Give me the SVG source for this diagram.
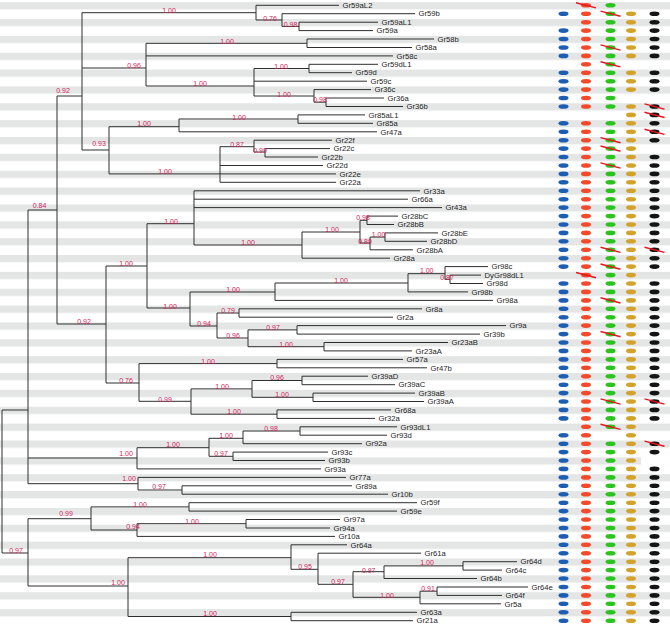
<svg xmlns="http://www.w3.org/2000/svg" xmlns:xlink="http://www.w3.org/1999/xlink" width="670" height="624" viewBox="0 0 670 624">
<style>
.e{stroke:#2e2e2e;stroke-width:1;fill:none}
.t{font-family:"Liberation Sans",Arial,sans-serif;font-size:7.7px;fill:#1e1e1e}
.b{font-family:"Liberation Sans",Arial,sans-serif;font-size:7px;fill:#d6225a;text-anchor:middle}
</style>
<defs>
<pattern id="stripes" patternUnits="userSpaceOnUse" x="0" y="2.1" width="670" height="16.86"><rect x="0" y="0" width="670" height="7.3" fill="#e4e6e6"/></pattern>
<ellipse id="d" rx="5" ry="2.3"/>
<path id="x" d="M-10-2.6L10 2.6" stroke="#e8141e" stroke-width="1.4" fill="none"/>
</defs>
<rect x="0" y="0" width="670" height="624" fill="#fff"/>
<rect x="0" y="0" width="670" height="624" fill="url(#stripes)"/>
<rect x="641" y="456" width="29" height="9" fill="#fff"/>
<g id="connectors" class="e">
<path d="M2 410V553M2 410H28M2 553H28"/>
<path d="M28 210V483.7M28 210H57M28 458H137M28 483.7H138"/>
<path d="M57 96V324M57 96H82M57 324H106"/>
<path d="M82 12.7V150M82 12.7H256M82 68H146M82 150H109"/>
<path d="M256 5.3V20M256 5.3H339M256 20H282"/>
<path d="M282 13.7V26.4M282 13.7H415M282 26.4H299"/>
<path d="M299 22.2V30.6M299 22.2H378M299 30.6H373"/>
<path d="M146 43.3V86M146 43.3H307M146 55.9H393M146 86H254"/>
<path d="M307 39V47.5M307 39H434M307 47.5H412"/>
<path d="M254 68.5V96M254 68.5H309M254 81.2H367M254 96H314"/>
<path d="M309 64.3V72.7M309 64.3H378M309 72.7H352"/>
<path d="M314 89.6V102.2M314 89.6H371M314 102.2H326"/>
<path d="M326 98V106.5M326 98H384M326 106.5H403"/>
<path d="M109 126.7V173.9M109 126.7H179M109 173.9H220"/>
<path d="M179 119V131.8M179 119H298M179 131.8H377"/>
<path d="M298 114.9V123.3M298 114.9H365M298 123.3H373"/>
<path d="M220 146.7V182.3M220 146.7H254M220 165.5H323M220 173.9H336M220 182.3H336"/>
<path d="M254 140.2V152M254 140.2H332M254 152H265"/>
<path d="M265 148.6V157M265 148.6H330M265 157H318"/>
<path d="M106 266V383M106 266H147M106 383H139"/>
<path d="M147 223.7V308M147 223.7H194M147 308H190"/>
<path d="M194 190.8V245M194 190.8H420M194 199.2H408M194 207.6H442M194 245H302"/>
<path d="M302 232V258.2M302 232H360M302 258.2H390"/>
<path d="M360 220.3V243M360 220.3H367M360 243H370"/>
<path d="M367 216.1V224.5M367 216.1H398M367 224.5H394"/>
<path d="M370 237.1V249.8M370 237.1H385M370 249.8H413"/>
<path d="M385 232.9V241.3M385 232.9H438M385 241.3H427"/>
<path d="M190 292V326M190 292H275M190 326H217"/>
<path d="M275 283V300.4M275 283H408M275 300.4H493"/>
<path d="M408 273.7V291.9M408 273.7H445M408 291.9H468"/>
<path d="M445 266.6V279.3M445 266.6H488M445 279.3H450"/>
<path d="M450 275.1V283.5M450 275.1H481M450 283.5H483"/>
<path d="M217 313V338M217 313H239M217 338H248"/>
<path d="M239 308.8V317.2M239 308.8H422M239 317.2H393"/>
<path d="M248 329.9V346.7M248 329.9H297M248 346.7H324"/>
<path d="M297 325.6V334.1M297 325.6H506M297 334.1H480"/>
<path d="M324 342.5V350.9M324 342.5H448M324 350.9H412"/>
<path d="M139 363.6V401.3M139 363.6H277M139 401.3H191"/>
<path d="M277 359.4V367.8M277 359.4H403M277 367.8H427"/>
<path d="M191 388.9V414.2M191 388.9H252M191 414.2H277"/>
<path d="M252 380.5V397.3M252 380.5H302M252 397.3H313"/>
<path d="M302 376.2V384.7M302 376.2H368M302 384.7H395"/>
<path d="M313 393.1V401.5M313 393.1H415M313 401.5H424"/>
<path d="M277 409.9V418.4M277 409.9H391M277 418.4H375"/>
<path d="M137 447.7V468.9M137 447.7H209M137 468.9H321"/>
<path d="M209 438.3V456.3M209 438.3H243M209 456.3H233"/>
<path d="M243 431V443.7M243 431H300M243 443.7H362"/>
<path d="M300 426.8V435.2M300 426.8H397M300 435.2H387"/>
<path d="M233 452.1V460.5M233 452.1H328M233 460.5H325"/>
<path d="M138 477.4V490M138 477.4H346M138 490H182"/>
<path d="M182 485.8V494.2M182 485.8H352M182 494.2H388"/>
<path d="M28 518.7V586M28 518.7H91M28 586H128"/>
<path d="M91 506.9V530M91 506.9H189M91 530H137"/>
<path d="M189 502.7V511.1M189 502.7H417M189 511.1H397"/>
<path d="M137 523.7V536.4M137 523.7H246M137 536.4H335"/>
<path d="M246 519.5V528M246 519.5H340M246 528H330"/>
<path d="M128 557.7V616.5M128 557.7H291M128 616.5H291"/>
<path d="M291 544.8V569.3M291 544.8H347M291 569.3H318"/>
<path d="M318 553.2V584.3M318 553.2H421M318 584.3H353"/>
<path d="M353 571.7V597.3M353 571.7H384M353 597.3H420"/>
<path d="M384 565.9V578.5M384 565.9H463M384 578.5H477"/>
<path d="M463 561.7V570.1M463 561.7H517M463 570.1H502"/>
<path d="M420 591.2V603.8M420 591.2H437M420 603.8H501"/>
<path d="M437 587V595.4M437 587H528M437 595.4H502"/>
<path d="M291 612.3V620.7M291 612.3H417M291 620.7H413"/>
</g>
<g id="support" class="b">
<text x="169" y="13.2">1.00</text><text x="270" y="20.5">0.76</text><text x="290.5" y="26.5">0.98</text>
<text x="227" y="44.2">1.00</text><text x="134" y="68.2">0.96</text><text x="200" y="85.8">1.00</text>
<text x="281" y="69.2">1.00</text><text x="284" y="96.5">1.00</text><text x="320" y="101.8">0.98</text>
<text x="63" y="92.5">0.92</text><text x="144" y="125.5">1.00</text><text x="239" y="119.8">1.00</text>
<text x="99" y="145.8">0.93</text><text x="237" y="147.2">0.87</text><text x="260" y="153.2">0.99</text>
<text x="165" y="174.2">1.00</text><text x="39.5" y="208.2">0.84</text><text x="171" y="223.8">1.00</text>
<text x="248" y="244.8">1.00</text><text x="332" y="232.2">1.00</text><text x="126" y="266.2">1.00</text>
<text x="233" y="291.5">1.00</text><text x="170" y="308.8">1.00</text><text x="228" y="312.8">0.79</text>
<text x="341" y="282.5">1.00</text><text x="363" y="219.8">0.98</text><text x="378.5" y="236.5">1.00</text>
<text x="365" y="243.8">0.89</text><text x="426.7" y="272.8">1.00</text><text x="447" y="279.5">0.87</text>
<text x="84" y="323.8">0.92</text><text x="204" y="326.2">0.94</text><text x="273" y="329.5">0.97</text>
<text x="233" y="337.8">0.96</text><text x="286" y="346.8">1.00</text><text x="208" y="363.8">1.00</text>
<text x="277" y="380.2">0.96</text><text x="126" y="382.8">0.76</text><text x="222" y="388.8">1.00</text>
<text x="282" y="397.2">1.00</text><text x="165" y="401.8">0.99</text><text x="234" y="413.8">1.00</text>
<text x="271" y="431.2">0.98</text><text x="226" y="437.5">1.00</text><text x="173" y="446.8">1.00</text>
<text x="126" y="456.2">1.00</text><text x="221" y="456.2">0.97</text><text x="129" y="480.5">1.00</text>
<text x="159" y="489.2">0.97</text><text x="140" y="506.8">1.00</text><text x="66" y="516.2">0.99</text>
<text x="192" y="523.5">1.00</text><text x="133" y="529.2">0.94</text><text x="16" y="552.5">0.97</text>
<text x="210" y="556.5">1.00</text><text x="305" y="569.2">0.95</text><text x="118" y="584.5">1.00</text>
<text x="338" y="584.2">0.97</text><text x="210" y="615.8">1.00</text><text x="427" y="565.2">1.00</text>
<text x="368.7" y="572.5">0.97</text><text x="428" y="590.8">0.91</text><text x="387" y="597.5">1.00</text>
</g>
<g class="t">
<g id="Gr59aL2"><text x="342.5" y="8">Gr59aL2</text></g>
<g id="Gr59b"><text x="418.5" y="16.4">Gr59b</text></g>
<g id="Gr59aL1"><text x="381.5" y="24.9">Gr59aL1</text></g>
<g id="Gr59a"><text x="376.5" y="33.3">Gr59a</text></g>
<g id="Gr58b"><text x="437.5" y="41.7">Gr58b</text></g>
<g id="Gr58a"><text x="415.5" y="50.2">Gr58a</text></g>
<g id="Gr58c"><text x="396.5" y="58.6">Gr58c</text></g>
<g id="Gr59dL1"><text x="381.5" y="67">Gr59dL1</text></g>
<g id="Gr59d"><text x="355.5" y="75.4">Gr59d</text></g>
<g id="Gr59c"><text x="370.5" y="83.9">Gr59c</text></g>
<g id="Gr36c"><text x="374.5" y="92.3">Gr36c</text></g>
<g id="Gr36a"><text x="387.5" y="100.7">Gr36a</text></g>
<g id="Gr36b"><text x="406.5" y="109.2">Gr36b</text></g>
<g id="Gr85aL1"><text x="368.5" y="117.6">Gr85aL1</text></g>
<g id="Gr85a"><text x="376.5" y="126">Gr85a</text></g>
<g id="Gr47a"><text x="380.5" y="134.5">Gr47a</text></g>
<g id="Gr22f"><text x="335.5" y="142.9">Gr22f</text></g>
<g id="Gr22c"><text x="333.5" y="151.3">Gr22c</text></g>
<g id="Gr22b"><text x="321.5" y="159.7">Gr22b</text></g>
<g id="Gr22d"><text x="326.5" y="168.2">Gr22d</text></g>
<g id="Gr22e"><text x="339.5" y="176.6">Gr22e</text></g>
<g id="Gr22a"><text x="339.5" y="185">Gr22a</text></g>
<g id="Gr33a"><text x="423.5" y="193.5">Gr33a</text></g>
<g id="Gr66a"><text x="411.5" y="201.9">Gr66a</text></g>
<g id="Gr43a"><text x="445.5" y="210.3">Gr43a</text></g>
<g id="Gr28bC"><text x="401.5" y="218.8">Gr28bC</text></g>
<g id="Gr28bB"><text x="397.5" y="227.2">Gr28bB</text></g>
<g id="Gr28bE"><text x="441.5" y="235.6">Gr28bE</text></g>
<g id="Gr28bD"><text x="430.5" y="244">Gr28bD</text></g>
<g id="Gr28bA"><text x="416.5" y="252.5">Gr28bA</text></g>
<g id="Gr28a"><text x="393.5" y="260.9">Gr28a</text></g>
<g id="Gr98c"><text x="491.5" y="269.3">Gr98c</text></g>
<g id="DyGr98dL1"><text x="484.5" y="277.8">DyGr98dL1</text></g>
<g id="Gr98d"><text x="486.5" y="286.2">Gr98d</text></g>
<g id="Gr98b"><text x="471.5" y="294.6">Gr98b</text></g>
<g id="Gr98a"><text x="496.5" y="303.1">Gr98a</text></g>
<g id="Gr8a"><text x="425.5" y="311.5">Gr8a</text></g>
<g id="Gr2a"><text x="396.5" y="319.9">Gr2a</text></g>
<g id="Gr9a"><text x="509.5" y="328.3">Gr9a</text></g>
<g id="Gr39b"><text x="483.5" y="336.8">Gr39b</text></g>
<g id="Gr23aB"><text x="451.5" y="345.2">Gr23aB</text></g>
<g id="Gr23aA"><text x="415.5" y="353.6">Gr23aA</text></g>
<g id="Gr57a"><text x="406.5" y="362.1">Gr57a</text></g>
<g id="Gr47b"><text x="430.5" y="370.5">Gr47b</text></g>
<g id="Gr39aD"><text x="371.5" y="378.9">Gr39aD</text></g>
<g id="Gr39aC"><text x="398.5" y="387.4">Gr39aC</text></g>
<g id="Gr39aB"><text x="418.5" y="395.8">Gr39aB</text></g>
<g id="Gr39aA"><text x="427.5" y="404.2">Gr39aA</text></g>
<g id="Gr68a"><text x="394.5" y="412.6">Gr68a</text></g>
<g id="Gr32a"><text x="378.5" y="421.1">Gr32a</text></g>
<g id="Gr93dL1"><text x="400.5" y="429.5">Gr93dL1</text></g>
<g id="Gr93d"><text x="390.5" y="437.9">Gr93d</text></g>
<g id="Gr92a"><text x="365.5" y="446.4">Gr92a</text></g>
<g id="Gr93c"><text x="331.5" y="454.8">Gr93c</text></g>
<g id="Gr93b"><text x="328.5" y="463.2">Gr93b</text></g>
<g id="Gr93a"><text x="324.5" y="471.6">Gr93a</text></g>
<g id="Gr77a"><text x="349.5" y="480.1">Gr77a</text></g>
<g id="Gr89a"><text x="355.5" y="488.5">Gr89a</text></g>
<g id="Gr10b"><text x="391.5" y="496.9">Gr10b</text></g>
<g id="Gr59f"><text x="420.5" y="505.4">Gr59f</text></g>
<g id="Gr59e"><text x="400.5" y="513.8">Gr59e</text></g>
<g id="Gr97a"><text x="343.5" y="522.2">Gr97a</text></g>
<g id="Gr94a"><text x="333.5" y="530.7">Gr94a</text></g>
<g id="Gr10a"><text x="338.5" y="539.1">Gr10a</text></g>
<g id="Gr64a"><text x="350.5" y="547.5">Gr64a</text></g>
<g id="Gr61a"><text x="424.5" y="555.9">Gr61a</text></g>
<g id="Gr64d"><text x="520.5" y="564.4">Gr64d</text></g>
<g id="Gr64c"><text x="505.5" y="572.8">Gr64c</text></g>
<g id="Gr64b"><text x="480.5" y="581.2">Gr64b</text></g>
<g id="Gr64e"><text x="531.5" y="589.7">Gr64e</text></g>
<g id="Gr64f"><text x="505.5" y="598.1">Gr64f</text></g>
<g id="Gr5a"><text x="504.5" y="606.5">Gr5a</text></g>
<g id="Gr63a"><text x="420.5" y="615">Gr63a</text></g>
<g id="Gr21a"><text x="416.5" y="623.4">Gr21a</text></g>
</g>
<g id="col-blue" fill="#1d5db2" transform="translate(563.5 0)">
<use href="#d" y="13.7"/><use href="#d" y="30.6"/><use href="#d" y="39"/><use href="#d" y="47.5"/><use href="#d" y="55.9"/><use href="#d" y="72.7"/><use href="#d" y="81.2"/><use href="#d" y="89.6"/><use href="#d" y="98"/><use href="#d" y="106.5"/><use href="#d" y="123.3"/><use href="#d" y="131.8"/><use href="#d" y="140.2"/><use href="#d" y="148.6"/><use href="#d" y="157"/><use href="#d" y="165.5"/><use href="#d" y="173.9"/><use href="#d" y="182.3"/><use href="#d" y="190.8"/><use href="#d" y="199.2"/><use href="#d" y="207.6"/><use href="#d" y="216.1"/><use href="#d" y="224.5"/><use href="#d" y="232.9"/><use href="#d" y="241.3"/><use href="#d" y="249.8"/><use href="#d" y="258.2"/><use href="#d" y="266.6"/><use href="#d" y="283.5"/><use href="#d" y="291.9"/><use href="#d" y="300.4"/><use href="#d" y="308.8"/><use href="#d" y="317.2"/><use href="#d" y="325.6"/><use href="#d" y="334.1"/><use href="#d" y="342.5"/><use href="#d" y="350.9"/><use href="#d" y="359.4"/><use href="#d" y="367.8"/><use href="#d" y="376.2"/><use href="#d" y="384.7"/><use href="#d" y="393.1"/><use href="#d" y="401.5"/><use href="#d" y="409.9"/><use href="#d" y="418.4"/><use href="#d" y="435.2"/><use href="#d" y="443.7"/><use href="#d" y="452.1"/><use href="#d" y="460.5"/><use href="#d" y="468.9"/><use href="#d" y="477.4"/><use href="#d" y="485.8"/><use href="#d" y="494.2"/><use href="#d" y="502.7"/><use href="#d" y="511.1"/><use href="#d" y="519.5"/><use href="#d" y="528"/><use href="#d" y="536.4"/><use href="#d" y="544.8"/><use href="#d" y="553.2"/><use href="#d" y="561.7"/><use href="#d" y="570.1"/><use href="#d" y="578.5"/><use href="#d" y="587"/><use href="#d" y="595.4"/><use href="#d" y="603.8"/><use href="#d" y="612.3"/><use href="#d" y="620.7"/>
</g>
<g id="col-red" fill="#f4492b" transform="translate(586 0)">
<use href="#d" y="5.3"/><use href="#d" y="13.7"/><use href="#d" y="22.2"/><use href="#d" y="30.6"/><use href="#d" y="39"/><use href="#d" y="47.5"/><use href="#d" y="55.9"/><use href="#d" y="64.3"/><use href="#d" y="72.7"/><use href="#d" y="81.2"/><use href="#d" y="89.6"/><use href="#d" y="98"/><use href="#d" y="106.5"/><use href="#d" y="123.3"/><use href="#d" y="131.8"/><use href="#d" y="140.2"/><use href="#d" y="148.6"/><use href="#d" y="157"/><use href="#d" y="165.5"/><use href="#d" y="173.9"/><use href="#d" y="182.3"/><use href="#d" y="190.8"/><use href="#d" y="199.2"/><use href="#d" y="207.6"/><use href="#d" y="216.1"/><use href="#d" y="224.5"/><use href="#d" y="232.9"/><use href="#d" y="241.3"/><use href="#d" y="249.8"/><use href="#d" y="258.2"/><use href="#d" y="266.6"/><use href="#d" y="275.1"/><use href="#d" y="283.5"/><use href="#d" y="291.9"/><use href="#d" y="300.4"/><use href="#d" y="308.8"/><use href="#d" y="317.2"/><use href="#d" y="325.6"/><use href="#d" y="334.1"/><use href="#d" y="342.5"/><use href="#d" y="350.9"/><use href="#d" y="359.4"/><use href="#d" y="367.8"/><use href="#d" y="376.2"/><use href="#d" y="384.7"/><use href="#d" y="393.1"/><use href="#d" y="401.5"/><use href="#d" y="409.9"/><use href="#d" y="418.4"/><use href="#d" y="426.8"/><use href="#d" y="435.2"/><use href="#d" y="443.7"/><use href="#d" y="452.1"/><use href="#d" y="460.5"/><use href="#d" y="468.9"/><use href="#d" y="477.4"/><use href="#d" y="485.8"/><use href="#d" y="494.2"/><use href="#d" y="502.7"/><use href="#d" y="511.1"/><use href="#d" y="519.5"/><use href="#d" y="528"/><use href="#d" y="536.4"/><use href="#d" y="544.8"/><use href="#d" y="553.2"/><use href="#d" y="561.7"/><use href="#d" y="570.1"/><use href="#d" y="578.5"/><use href="#d" y="587"/><use href="#d" y="595.4"/><use href="#d" y="603.8"/><use href="#d" y="612.3"/><use href="#d" y="620.7"/>
</g>
<g id="col-green" fill="#2cc21f" transform="translate(610.5 0)">
<use href="#d" y="5.3"/><use href="#d" y="13.7"/><use href="#d" y="22.2"/><use href="#d" y="30.6"/><use href="#d" y="39"/><use href="#d" y="47.5"/><use href="#d" y="55.9"/><use href="#d" y="64.3"/><use href="#d" y="72.7"/><use href="#d" y="81.2"/><use href="#d" y="89.6"/><use href="#d" y="98"/><use href="#d" y="106.5"/><use href="#d" y="123.3"/><use href="#d" y="131.8"/><use href="#d" y="140.2"/><use href="#d" y="148.6"/><use href="#d" y="157"/><use href="#d" y="165.5"/><use href="#d" y="173.9"/><use href="#d" y="182.3"/><use href="#d" y="190.8"/><use href="#d" y="199.2"/><use href="#d" y="207.6"/><use href="#d" y="216.1"/><use href="#d" y="224.5"/><use href="#d" y="232.9"/><use href="#d" y="241.3"/><use href="#d" y="249.8"/><use href="#d" y="258.2"/><use href="#d" y="266.6"/><use href="#d" y="275.1"/><use href="#d" y="283.5"/><use href="#d" y="291.9"/><use href="#d" y="300.4"/><use href="#d" y="308.8"/><use href="#d" y="317.2"/><use href="#d" y="325.6"/><use href="#d" y="334.1"/><use href="#d" y="342.5"/><use href="#d" y="350.9"/><use href="#d" y="359.4"/><use href="#d" y="367.8"/><use href="#d" y="376.2"/><use href="#d" y="384.7"/><use href="#d" y="393.1"/><use href="#d" y="401.5"/><use href="#d" y="409.9"/><use href="#d" y="418.4"/><use href="#d" y="426.8"/><use href="#d" y="443.7"/><use href="#d" y="452.1"/><use href="#d" y="460.5"/><use href="#d" y="468.9"/><use href="#d" y="477.4"/><use href="#d" y="485.8"/><use href="#d" y="494.2"/><use href="#d" y="502.7"/><use href="#d" y="511.1"/><use href="#d" y="519.5"/><use href="#d" y="528"/><use href="#d" y="536.4"/><use href="#d" y="544.8"/><use href="#d" y="553.2"/><use href="#d" y="561.7"/><use href="#d" y="570.1"/><use href="#d" y="578.5"/><use href="#d" y="587"/><use href="#d" y="595.4"/><use href="#d" y="603.8"/><use href="#d" y="612.3"/><use href="#d" y="620.7"/>
</g>
<g id="col-gold" fill="#d3a22b" transform="translate(631 0)">
<use href="#d" y="13.7"/><use href="#d" y="22.2"/><use href="#d" y="30.6"/><use href="#d" y="39"/><use href="#d" y="47.5"/><use href="#d" y="55.9"/><use href="#d" y="72.7"/><use href="#d" y="81.2"/><use href="#d" y="89.6"/><use href="#d" y="106.5"/><use href="#d" y="114.9"/><use href="#d" y="123.3"/><use href="#d" y="131.8"/><use href="#d" y="140.2"/><use href="#d" y="148.6"/><use href="#d" y="157"/><use href="#d" y="165.5"/><use href="#d" y="173.9"/><use href="#d" y="182.3"/><use href="#d" y="190.8"/><use href="#d" y="199.2"/><use href="#d" y="207.6"/><use href="#d" y="216.1"/><use href="#d" y="224.5"/><use href="#d" y="232.9"/><use href="#d" y="241.3"/><use href="#d" y="249.8"/><use href="#d" y="258.2"/><use href="#d" y="266.6"/><use href="#d" y="275.1"/><use href="#d" y="283.5"/><use href="#d" y="291.9"/><use href="#d" y="300.4"/><use href="#d" y="308.8"/><use href="#d" y="317.2"/><use href="#d" y="325.6"/><use href="#d" y="334.1"/><use href="#d" y="342.5"/><use href="#d" y="350.9"/><use href="#d" y="359.4"/><use href="#d" y="367.8"/><use href="#d" y="376.2"/><use href="#d" y="384.7"/><use href="#d" y="393.1"/><use href="#d" y="401.5"/><use href="#d" y="409.9"/><use href="#d" y="418.4"/><use href="#d" y="426.8"/><use href="#d" y="435.2"/><use href="#d" y="443.7"/><use href="#d" y="452.1"/><use href="#d" y="460.5"/><use href="#d" y="468.9"/><use href="#d" y="477.4"/><use href="#d" y="485.8"/><use href="#d" y="494.2"/><use href="#d" y="502.7"/><use href="#d" y="511.1"/><use href="#d" y="519.5"/><use href="#d" y="528"/><use href="#d" y="536.4"/><use href="#d" y="544.8"/><use href="#d" y="553.2"/><use href="#d" y="561.7"/><use href="#d" y="570.1"/><use href="#d" y="578.5"/><use href="#d" y="587"/><use href="#d" y="595.4"/><use href="#d" y="603.8"/><use href="#d" y="612.3"/><use href="#d" y="620.7"/>
</g>
<g id="col-black" fill="#141414" transform="translate(654.5 0)">
<use href="#d" y="13.7"/><use href="#d" y="22.2"/><use href="#d" y="30.6"/><use href="#d" y="39"/><use href="#d" y="47.5"/><use href="#d" y="55.9"/><use href="#d" y="72.7"/><use href="#d" y="81.2"/><use href="#d" y="89.6"/><use href="#d" y="106.5"/><use href="#d" y="114.9"/><use href="#d" y="123.3"/><use href="#d" y="131.8"/><use href="#d" y="140.2"/><use href="#d" y="157"/><use href="#d" y="165.5"/><use href="#d" y="173.9"/><use href="#d" y="182.3"/><use href="#d" y="190.8"/><use href="#d" y="199.2"/><use href="#d" y="207.6"/><use href="#d" y="216.1"/><use href="#d" y="224.5"/><use href="#d" y="232.9"/><use href="#d" y="241.3"/><use href="#d" y="249.8"/><use href="#d" y="258.2"/><use href="#d" y="266.6"/><use href="#d" y="283.5"/><use href="#d" y="291.9"/><use href="#d" y="300.4"/><use href="#d" y="308.8"/><use href="#d" y="317.2"/><use href="#d" y="325.6"/><use href="#d" y="334.1"/><use href="#d" y="342.5"/><use href="#d" y="350.9"/><use href="#d" y="359.4"/><use href="#d" y="367.8"/><use href="#d" y="376.2"/><use href="#d" y="384.7"/><use href="#d" y="393.1"/><use href="#d" y="401.5"/><use href="#d" y="409.9"/><use href="#d" y="418.4"/><use href="#d" y="443.7"/><use href="#d" y="452.1"/><use href="#d" y="468.9"/><use href="#d" y="477.4"/><use href="#d" y="485.8"/><use href="#d" y="494.2"/><use href="#d" y="502.7"/><use href="#d" y="511.1"/><use href="#d" y="519.5"/><use href="#d" y="528"/><use href="#d" y="536.4"/><use href="#d" y="544.8"/><use href="#d" y="553.2"/><use href="#d" y="561.7"/><use href="#d" y="570.1"/><use href="#d" y="578.5"/><use href="#d" y="587"/><use href="#d" y="595.4"/><use href="#d" y="603.8"/><use href="#d" y="612.3"/><use href="#d" y="620.7"/>
</g>
<g id="losses">
<use href="#x" x="586" y="5.3"/><use href="#x" x="586" y="275.1"/>
<use href="#x" x="610.5" y="13.7"/><use href="#x" x="610.5" y="47.5"/><use href="#x" x="610.5" y="64.3"/><use href="#x" x="610.5" y="140.2"/><use href="#x" x="610.5" y="148.6"/><use href="#x" x="610.5" y="165.5"/><use href="#x" x="610.5" y="249.8"/><use href="#x" x="610.5" y="266.6"/><use href="#x" x="610.5" y="300.4"/><use href="#x" x="610.5" y="334.1"/><use href="#x" x="610.5" y="401.5"/><use href="#x" x="610.5" y="426.8"/>
<use href="#x" x="654.5" y="106.5"/><use href="#x" x="654.5" y="114.9"/><use href="#x" x="654.5" y="131.8"/><use href="#x" x="654.5" y="249.8"/><use href="#x" x="654.5" y="401.5"/><use href="#x" x="654.5" y="443.7"/>
</g>
</svg>
